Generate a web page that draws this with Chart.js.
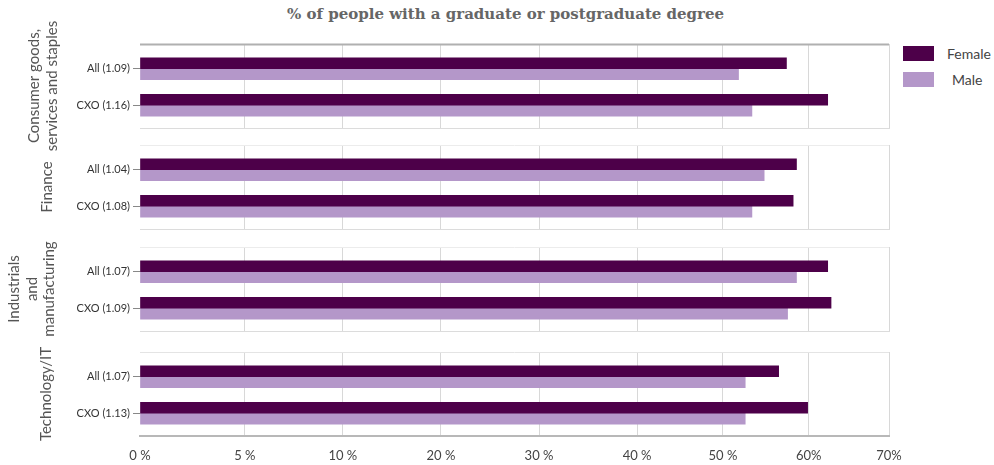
<!DOCTYPE html>
<html>
<head>
<meta charset="utf-8">
<script src="https://cdn.jsdelivr.net/npm/chart.js@4"></script>
<style>
    body { margin: 0; background: #fff; }
    #wrap { position: relative; width: 994px; height: 465px; overflow: hidden; }
    #wrap canvas { position: absolute; left: 0; }
    #chartTitle {
        position: absolute; left: 287px; top: 5px;
        font: bold 15px "DejaVu Serif", serif; color: #666; white-space: nowrap;
    }
    #legend { position: absolute; left: 903px; top: 46px; font: 14px Lato, sans-serif; color: #444; }
    #legend .item { position: relative; height: 26px; }
    #legend .box { position: absolute; left: 0; top: 0; width: 31px; height: 15px; }
    #legend .label { position: absolute; top: -1px; white-space: nowrap; }
</style>
</head>
<body>
<div id="wrap">
    <div id="chartTitle">% of people with a graduate or postgraduate degree</div>
    <div id="legend"></div>
</div>
<script>
// Sectors, one boxed panel each
const sectorTitles = [
    ['Consumer goods,', 'services and staples'],
    ['Finance'],
    ['Industrials', 'and', 'manufacturing'],
    ['Technology/IT']
];
const rowLabels = [
    ['All (1.09)', 'CXO (1.16)'],
    ['All (1.04)', 'CXO (1.08)'],
    ['All (1.07)', 'CXO (1.09)'],
    ['All (1.07)', 'CXO (1.13)']
];
const femaleValues = [
    [58.0, 61.7],
    [58.9, 58.6],
    [61.7, 62.0],
    [57.3, 59.9]
];
const maleValues = [
    [53.7, 54.9],
    [56.0, 54.9],
    [58.9, 58.1],
    [54.3, 54.3]
];
// x axis gridlines and the labels printed under them
const tickValues = [0, 9.4, 18.2, 27.0, 35.8, 44.6, 52.3, 60, 67.2];
const tickLabels = ['0 %', '5 %', '10 %', '20 %', '30 %', '40 %', '50 %', '60%', '70%'];

const FEMALE_COLOR = '#4d0049';
const MALE_COLOR = '#b497c9';

// panel layout
const panelTops = [44, 145, 247, 352];
const panelHeight = 84;
const axisWidth = 140;
const titlePads = [26, 39, 6, 38];
const topLineColors = ['#b0b0b0', '#ececec', '#ececec', '#e4e4e4'];
const bottomLineColors = ['#dcdcdc', '#dcdcdc', '#dcdcdc', '#b8b8b8'];
const EXTRA = 40;

Chart.defaults.font.family = 'Lato, sans-serif';
Chart.defaults.color = '#444';

// draws the top edge of each panel box
const panelFrame = {
    id: 'panelFrame',
    afterDraw(chart, args, opts) {
        const { ctx, chartArea } = chart;
        ctx.save();
        ctx.strokeStyle = opts.color;
        ctx.lineWidth = opts.width;
        ctx.beginPath();
        ctx.moveTo(chartArea.left, chartArea.top + 0.5);
        ctx.lineTo(chartArea.right, chartArea.top + 0.5);
        ctx.stroke();
        ctx.restore();
    }
};

const wrap = document.getElementById('wrap');

sectorTitles.forEach((title, p) => {
    const isLast = p === sectorTitles.length - 1;
    const bottomSpace = isLast ? 465 - (panelTops[p] + panelHeight) : EXTRA;
    const canvas = document.createElement('canvas');
    canvas.width = 994;
    canvas.height = EXTRA + panelHeight + bottomSpace;
    canvas.style.top = (panelTops[p] - EXTRA) + 'px';
    wrap.appendChild(canvas);

    const rows = rowLabels[p];
    new Chart(canvas, {
        type: 'bar',
        data: {
            datasets: [
                {
                    label: 'Female',
                    data: femaleValues[p].map((v, i) => ({ x: v, y: i })),
                    backgroundColor: FEMALE_COLOR
                },
                {
                    label: 'Male',
                    data: maleValues[p].map((v, i) => ({ x: v, y: i })),
                    backgroundColor: MALE_COLOR
                }
            ]
        },
        options: {
            indexAxis: 'y',
            responsive: false,
            animation: false,
            barThickness: 11,
            layout: { padding: { top: EXTRA, bottom: 0, left: 0, right: 994 - 889 } },
            plugins: {
                legend: { display: false },
                tooltip: { enabled: false },
                panelFrame: { color: topLineColors[p], width: p === 0 ? 2 : 1 }
            },
            scales: {
                x: {
                    type: 'linear',
                    min: 0,
                    max: tickValues[tickValues.length - 1],
                    afterBuildTicks: (scale) => {
                        scale.ticks = tickValues.map(v => ({ value: v }));
                    },
                    afterFit: (scale) => { scale.height = bottomSpace; },
                    ticks: {
                        display: isLast,
                        autoSkip: false,
                        maxRotation: 0,
                        padding: 12,
                        font: { size: 13 },
                        color: '#444',
                        callback: (value, index) => tickLabels[index]
                    },
                    grid: {
                        drawTicks: false,
                        color: (c) => c.tick && c.tick.value === 0 ? 'rgba(0,0,0,0)' : '#d8d8d8'
                    },
                    border: { display: true, color: bottomLineColors[p], width: isLast ? 2 : 1 }
                },
                y: {
                    type: 'linear',
                    reverse: true,
                    offset: false,
                    min: -0.676,
                    max: 1.622,
                    afterBuildTicks: (scale) => {
                        scale.ticks = rows.map((_, i) => ({ value: i }));
                    },
                    afterFit: (scale) => { scale.width = axisWidth; },
                    ticks: {
                        padding: 3,
                        font: { size: 11 },
                        color: '#333',
                        callback: (value) => rows[value]
                    },
                    grid: {
                        offset: false,
                        drawOnChartArea: false,
                        drawTicks: true,
                        tickLength: 7,
                        color: '#888'
                    },
                    border: { display: false },
                    title: {
                        display: true,
                        text: title,
                        color: '#555',
                        font: { size: 15, lineHeight: 1.15 },
                        padding: { top: titlePads[p], bottom: 0 }
                    }
                }
            }
        },
        plugins: [panelFrame]
    });
});

// legend built from the two series
const legend = document.getElementById('legend');
[['Female', FEMALE_COLOR, 44], ['Male', MALE_COLOR, 49]].forEach(([name, color, textLeft]) => {
    const item = document.createElement('div');
    item.className = 'item';
    item.innerHTML = `<span class="box" style="background:${color}"></span><span class="label" style="left:${textLeft}px">${name}</span>`;
    legend.appendChild(item);
});
</script>
</body>
</html>
